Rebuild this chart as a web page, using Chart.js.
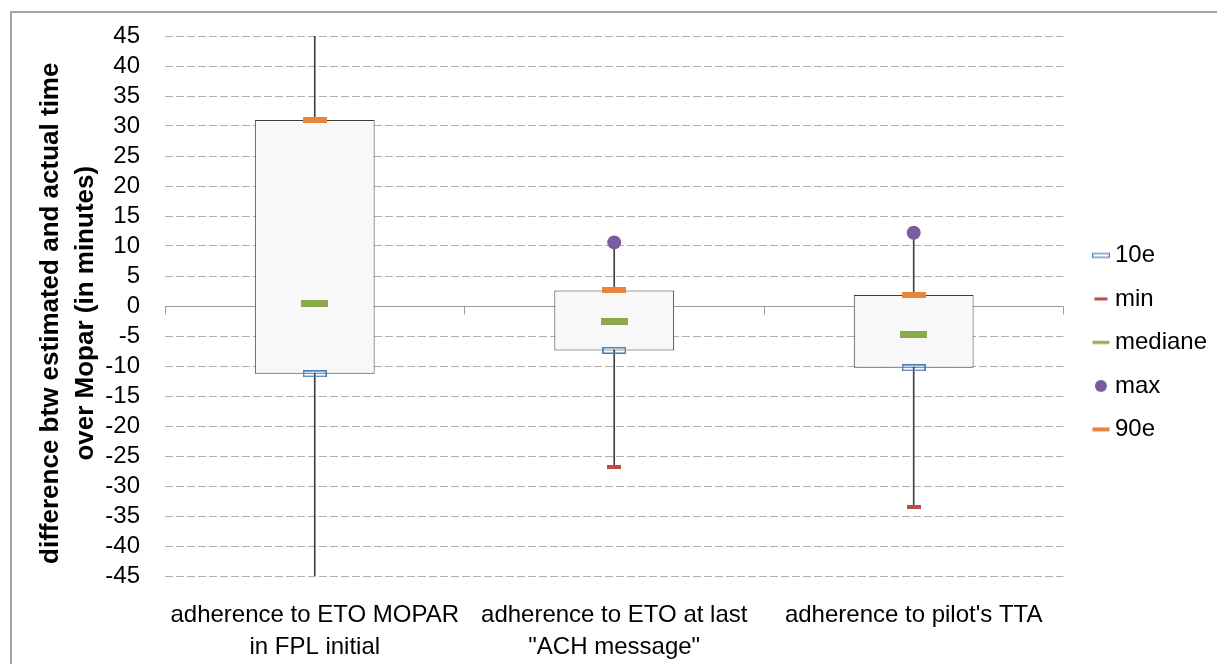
<!DOCTYPE html>
<html>
<head>
<meta charset="utf-8">
<script src="https://cdn.jsdelivr.net/npm/chart.js@4/dist/chart.umd.min.js"></script>
<style>
  html, body { margin: 0; padding: 0; background: #fff; }
  #wrap { position: relative; width: 1217px; height: 664px; overflow: hidden; }
  #frame { position: absolute; left: 10px; top: 11px; width: 1300px; height: 800px;
           border-left: 2px solid #a3a3a3; border-top: 2px solid #a3a3a3; box-sizing: border-box; }
  canvas { position: absolute; left: 0; top: 0; }
</style>
</head>
<body>
<div id="wrap">
  <div id="frame"></div>
  <canvas id="c" width="1217" height="664"></canvas>
</div>
<script>
// ---- data ----
const categories = [
  ["adherence to ETO MOPAR", "in FPL initial"],
  ["adherence to ETO at last", "\"ACH message\""],
  ["adherence to pilot's TTA"]
];
const p10Values    = [-11.3, -7.4, -10.3];
const minValues    = [-52, -26.9, -33.5];
const medianValues = [0.5, -2.6, -4.7];
const maxValues    = [52, 10.6, 12.2];
const p90Values    = [31, 2.6, 1.85];
const yTickValues  = [-45, -40, -35, -30, -25, -20, -15, -10, -5, 0, 5, 10, 15, 20, 25, 30, 35, 40, 45];
const seriesNames  = ["10e", "min", "mediane", "max", "90e"];
const yTitle = ["difference btw estimated and actual time  ", "over Mopar (in minutes)  "];

// ---- colours ----
const BLUE = '#4a7ebb', RED = '#be4b48', GREEN = '#8aa84c', PURPLE = '#7a5c9e', ORANGE = '#e8843c';

Chart.defaults.font.family = "'Liberation Sans', Arial, sans-serif";
Chart.defaults.color = '#000';

function icon(w, h, draw) {
  const c = document.createElement('canvas');
  c.width = w; c.height = h;
  draw(c.getContext('2d'));
  return c;
}
// chart markers
const mk10 = icon(24, 7, g => { g.strokeStyle = BLUE; g.lineWidth = 1.5; g.strokeRect(0.75, 0.75, 22.5, 5.5); });
const mkMin = icon(14, 4, g => { g.fillStyle = RED; g.fillRect(0, 0, 14, 4); });
const mkMed = icon(27, 7, g => { g.fillStyle = GREEN; g.fillRect(0, 0, 27, 7); });
const mk90 = icon(24, 6, g => { g.fillStyle = ORANGE; g.fillRect(0, 0, 24, 6); });
// legend markers (drawn right of image centre)
const lg = [
  icon(34, 14, g => { g.strokeStyle = BLUE; g.lineWidth = 1.2; g.strokeRect(16.6, 5.1, 16.8, 3.8); }),
  icon(34, 14, g => { g.fillStyle = RED; g.fillRect(18.5, 5.5, 13, 3); }),
  icon(34, 14, g => { g.fillStyle = GREEN; g.fillRect(16.5, 5.5, 17, 3); }),
  icon(34, 14, g => { g.fillStyle = PURPLE; g.beginPath(); g.arc(25, 7, 6, 0, Math.PI * 2); g.fill(); }),
  icon(34, 14, g => { g.fillStyle = ORANGE; g.fillRect(16.5, 5, 17, 4); })
];

const zeroLinePlugin = {
  id: 'zeroLine',
  beforeDatasetsDraw(chart) {
    const { ctx, chartArea, scales: { x, y } } = chart;
    const yz = Math.round(y.getPixelForValue(0)) + 0.5;
    const n = x.ticks.length;
    const step = x.getPixelForValue(1) - x.getPixelForValue(0);
    const start = x.getPixelForValue(0) - step / 2;
    ctx.save();
    ctx.strokeStyle = '#9a9a9a';
    ctx.lineWidth = 1;
    ctx.beginPath();
    ctx.moveTo(chartArea.left, yz);
    ctx.lineTo(chartArea.right, yz);
    for (let i = 0; i <= n; i++) {
      const px = Math.round(start + step * i) + 0.5;
      ctx.moveTo(px, yz);
      ctx.lineTo(px, yz + 8);
    }
    ctx.stroke();
    ctx.restore();
  }
};

const markerBase = { type: 'line', showLine: false, order: 1, pointRadius: 7, pointHoverRadius: 7 };

new Chart(document.getElementById('c'), {
  type: 'bar',
  data: {
    labels: categories,
    datasets: [
      Object.assign({}, markerBase, { label: seriesNames[0], data: p10Values, pointStyle: mk10 }),
      Object.assign({}, markerBase, { label: seriesNames[1], data: minValues, pointStyle: mkMin }),
      Object.assign({}, markerBase, { label: seriesNames[2], data: medianValues, pointStyle: mkMed }),
      Object.assign({}, markerBase, { label: seriesNames[3], data: maxValues, pointStyle: 'circle',
        backgroundColor: PURPLE, borderColor: PURPLE, borderWidth: 0 }),
      Object.assign({}, markerBase, { label: seriesNames[4], data: p90Values, pointStyle: mk90 }),
      {
        type: 'bar', label: 'box', order: 2, grouped: false,
        data: p10Values.map((v, i) => [v, p90Values[i]]),
        backgroundColor: '#f8f8f8', borderColor: '#3c3c3c', borderWidth: 1, borderSkipped: false,
        barPercentage: 0.4, categoryPercentage: 1
      },
      {
        type: 'bar', label: 'whisker', order: 3, grouped: false,
        data: minValues.map((v, i) => [v, maxValues[i]]),
        backgroundColor: '#404040', barThickness: 1
      }
    ]
  },
  options: {
    responsive: false,
    animation: false,
    events: [],
    layout: { padding: { left: 11, top: 36, right: 0, bottom: 0 } },
    plugins: {
      tooltip: { enabled: false },
      legend: {
        position: 'right',
        align: 'center',
        fullSize: false,
        title: { display: true, text: '', font: { size: 12, lineHeight: 1.2 }, padding: { top: 58.4, bottom: 0 } },
        labels: {
          usePointStyle: true,
          pointStyleWidth: 20,
          padding: 19.5,
          color: '#000',
          font: { size: 24 },
          generateLabels(chart) {
            const base = Chart.defaults.plugins.legend.labels.generateLabels(chart);
            return base.filter(it => it.datasetIndex < 5).map(it => {
              it.pointStyle = lg[it.datasetIndex];
              return it;
            });
          }
        }
      }
    },
    scales: {
      x: {
        grid: { display: false },
        border: { display: false },
        ticks: { color: '#000', font: { size: 24, lineHeight: 1.35 }, padding: 15, maxRotation: 0, autoSkip: false },
        afterFit(s) { s.height = 88; }
      },
      y: {
        min: -45, max: 45,
        afterBuildTicks(s) { s.ticks = yTickValues.map(v => ({ value: v })); },
        grid: {
          color: c => (c.tick && c.tick.value === 0) ? 'rgba(0,0,0,0)' : '#b0b0b0',
          lineWidth: 1, drawTicks: false
        },
        border: { display: false, dash: [8, 3] },
        ticks: { color: '#000', font: { size: 24 }, padding: 25, autoSkip: false },
        title: {
          display: true, text: yTitle, color: '#000',
          font: { size: 26, weight: 'bold', lineHeight: 1.35 },
          padding: { top: 22.5, bottom: 0 }
        },
        afterFit(s) { s.width = 154; s.paddingTop = 0; s.paddingBottom = 0; }
      }
    }
  },
  plugins: [zeroLinePlugin]
});
</script>
</body>
</html>
